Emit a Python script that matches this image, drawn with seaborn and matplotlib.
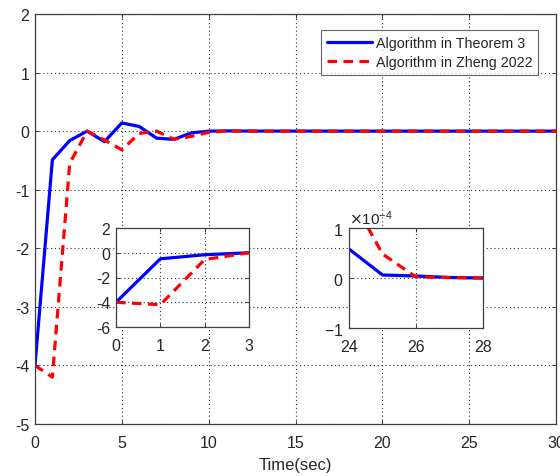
import numpy as np
import pandas as pd
import seaborn as sns
import matplotlib
matplotlib.use("Agg")
import matplotlib.pyplot as plt
from matplotlib.ticker import ScalarFormatter

# Sampled time instants (s)
time_sec = list(range(0, 31))

# Tracking error of the proposed algorithm (Theorem 3)
theorem3 = [-4.0, -0.49, -0.16, 0.0, -0.18, 0.14, 0.08, -0.12, -0.14, -0.03,
            0.0, 0.004, 0.002, 0.001, 6e-4, 4e-4, 3e-4, 2e-4, 1.5e-4, 1.2e-4,
            1e-4, 9e-5, 8e-5, 7e-5, 5.8e-5, 6e-6, 4e-6, 1e-6, 0.0, 0.0, 0.0]

# Tracking error of the comparison algorithm (Zheng 2022)
zheng2022 = [-4.0, -4.2, -0.55, 0.0, -0.15, -0.32, -0.04, 0.0, -0.14, -0.09,
             -0.02, 0.003, 0.002, 0.001, 8e-4, 6e-4, 5e-4, 4e-4, 3.5e-4, 3e-4,
             2.6e-4, 2.3e-4, 2e-4, 1.9e-4, 1.7e-4, 4.8e-5, 2e-6, 1e-6, 0.0, 0.0, 0.0]

labels = ["Algorithm in Theorem 3", "Algorithm in Zheng 2022"]

sns.set_theme(style="white")
plt.rcParams["font.family"] = ["Liberation Sans", "DejaVu Sans"]
plt.rcParams["axes.unicode_minus"] = False
plt.rcParams["axes.edgecolor"] = "#262626"
plt.rcParams["xtick.color"] = "#262626"
plt.rcParams["ytick.color"] = "#262626"

df = pd.DataFrame({"t": time_sec, "a": theorem3, "b": zheng2022})

fig = plt.figure(figsize=(5.6, 4.77), dpi=100)
W, H = 560, 477


def px_axes(left, top, right, bottom):
    return fig.add_axes([left / W, 1 - bottom / H, (right - left) / W, (bottom - top) / H])


def style_axes(ax, fs):
    ax.grid(True, color="0.2", linestyle=(0, (1, 2.5)), linewidth=0.8)
    ax.tick_params(direction="in", length=3, width=0.6, labelsize=fs,
                   top=True, right=True, bottom=True, left=True,
                   colors="#262626")
    ax.tick_params(axis="x", pad=8)
    ax.tick_params(axis="y", pad=4)
    for s in ax.spines.values():
        s.set_linewidth(0.9)
        s.set_color("#404040")
    ax.set_xlabel("")
    ax.set_ylabel("")


def draw_lines(ax, lw, with_label=False):
    sns.lineplot(data=df, x="t", y="a", ax=ax, color="#0000ff", linewidth=lw,
                 label=labels[0] if with_label else None, legend=False)
    sns.lineplot(data=df, x="t", y="b", ax=ax, color="#ff0000", linewidth=lw,
                 linestyle=(0, (3, 2)), label=labels[1] if with_label else None,
                 legend=False)


# Main axes
ax = px_axes(35, 15, 556, 425)
draw_lines(ax, 2.3, with_label=True)
ax.set_xlim(0, 30)
ax.set_ylim(-5, 2)
ax.set_xticks(range(0, 31, 5))
ax.set_yticks(range(-5, 3))
style_axes(ax, 11.5)
ax.set_xlabel("Time(sec)", fontsize=12, color="#262626", labelpad=5)
leg = ax.legend(loc="upper right", bbox_to_anchor=(0.966, 0.96), fontsize=10.3,
                frameon=True, fancybox=False, edgecolor="#404040",
                handlelength=3.2, borderpad=0.4, labelspacing=0.35,
                handletextpad=0.25, borderaxespad=0)
leg.get_frame().set_linewidth(0.8)

# Inset: start-up transient
ax1 = px_axes(116, 229, 249, 328)
draw_lines(ax1, 2.3)
ax1.set_xlim(0, 3)
ax1.set_ylim(-6, 2)
ax1.set_xticks([0, 1, 2, 3])
ax1.set_yticks([-6, -4, -2, 0, 2])
style_axes(ax1, 11.5)

# Inset: steady-state detail
ax2 = px_axes(349, 229, 483, 329)
draw_lines(ax2, 2.3)
ax2.set_xlim(24, 28)
ax2.set_ylim(-1e-4, 1e-4)
ax2.set_xticks([24, 26, 28])
ax2.set_yticks([-1e-4, 0, 1e-4])
fmt = ScalarFormatter(useMathText=True)
fmt.set_powerlimits((-4, -4))
ax2.yaxis.set_major_formatter(fmt)
style_axes(ax2, 11.5)
ax2.yaxis.get_offset_text().set_fontsize(11)

fig.savefig("out.png", dpi=100)
